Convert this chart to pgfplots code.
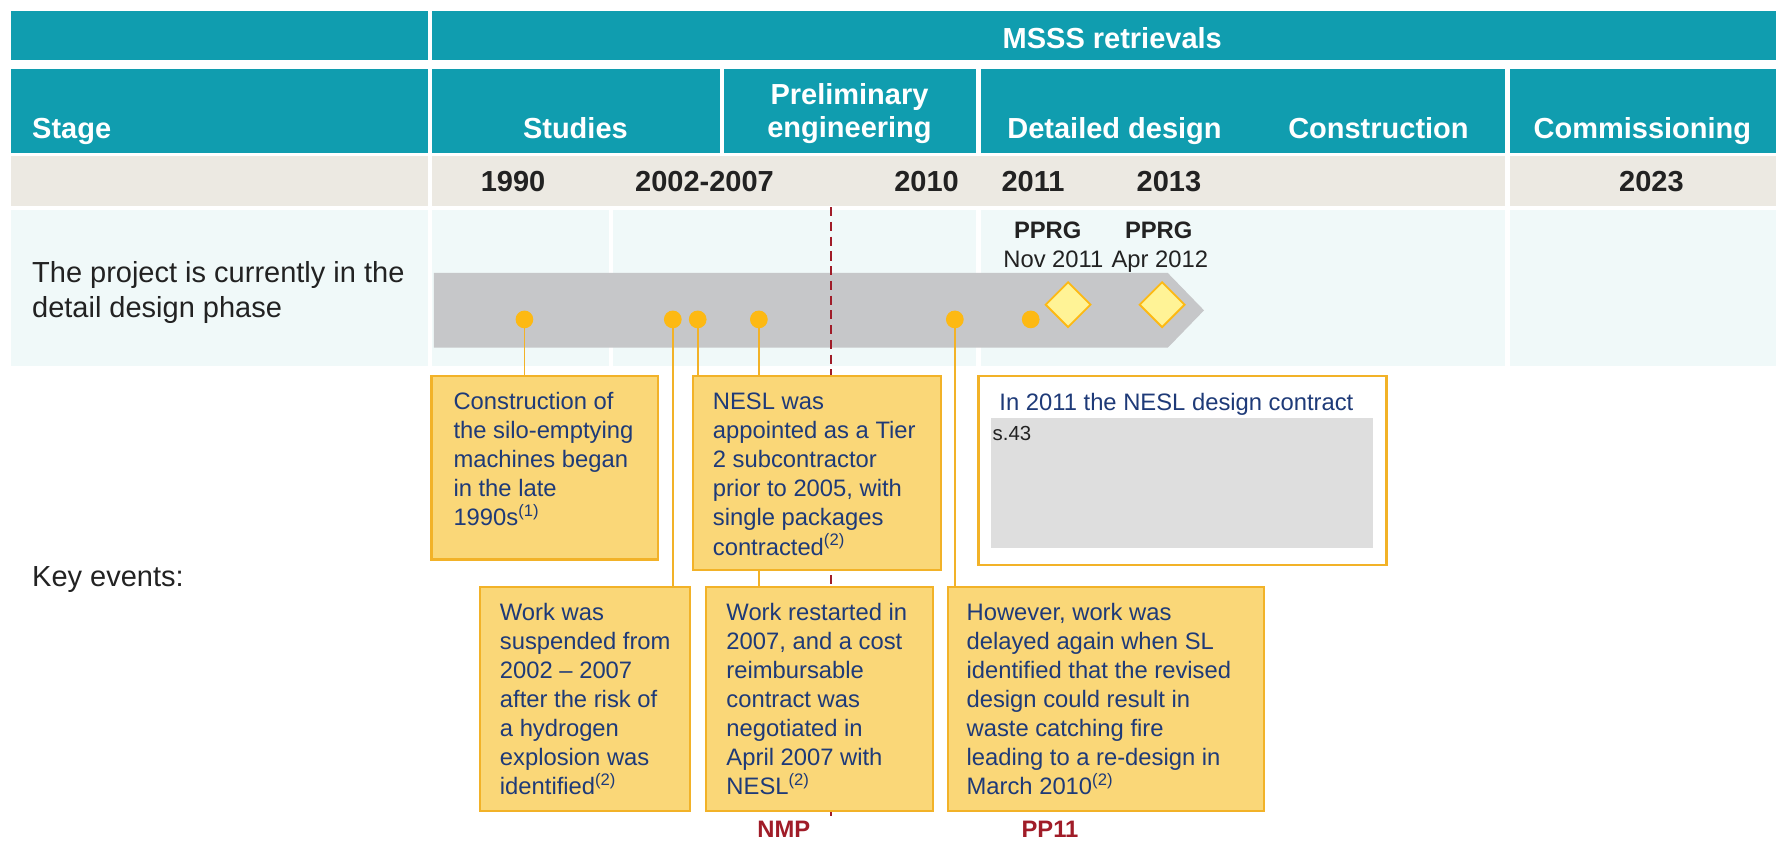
\documentclass[border=0pt]{standalone}
\usepackage{pgfplots}
\pgfplotsset{compat=1.18}
\usepackage{fontspec}
\setmainfont{Liberation Sans}
\definecolor{teal1}{RGB}{16,157,175}
\definecolor{beige}{RGB}{236,233,226}
\definecolor{lcyan}{RGB}{240,249,249}
\definecolor{arrowgray}{RGB}{198,199,201}
\definecolor{dotor}{RGB}{253,185,19}
\definecolor{boxfill}{RGB}{250,215,120}
\definecolor{boxline}{RGB}{242,178,40}
\definecolor{diafill}{RGB}{255,243,150}
\definecolor{navy}{RGB}{30,58,120}
\definecolor{dred}{RGB}{160,28,40}
\definecolor{innergray}{RGB}{222,222,222}
\definecolor{txt}{RGB}{34,34,34}
\newcommand{\hfont}{\fontsize{12.8}{15}\selectfont\bfseries}
\newcommand{\bfont}{\fontsize{10.5}{12.85}\selectfont}
\begin{document}
\begin{tikzpicture}
\begin{axis}[
  scale only axis, width=784pt, height=371.5pt,
  xmin=0, xmax=1568, ymin=0, ymax=743, y dir=reverse,
  hide axis, clip=false]
% white background
\fill[white] (0,0) rectangle (1568,743);
% top band
\fill[teal1] (10,10) rectangle (378,53);
\fill[teal1] (381,10) rectangle (1568,53);
% stage row
\fill[teal1] (10,61) rectangle (378,135);
\fill[teal1] (381,61) rectangle (636,135);
\fill[teal1] (639,61) rectangle (862,135);
\fill[teal1] (866,61) rectangle (1329,135);
\fill[teal1] (1333,61) rectangle (1568,135);
% year row
\fill[beige] (10,138) rectangle (378,182);
\fill[beige] (381,138) rectangle (1329,182);
\fill[beige] (1333,138) rectangle (1568,182);
% light row
\fill[lcyan] (10,185) rectangle (378,323);
\fill[lcyan] (381,185) rectangle (538,323);
\fill[lcyan] (541,185) rectangle (862,323);
\fill[lcyan] (866,185) rectangle (1329,323);
\fill[lcyan] (1333,185) rectangle (1568,323);
% grey arrow
\fill[arrowgray] (383,241) -- (1031,241) -- (1063,274) -- (1031,307) -- (383,307) -- cycle;
% dashed red line
\draw[dred, line width=0.8pt, dash pattern=on 4pt off 2.5pt] (734,183) -- (734,720);
% connectors
\draw[boxline, line width=0.8pt] (463,282) -- (463,332);
\draw[boxline, line width=0.8pt] (594,282) -- (594,518);
\draw[boxline, line width=0.8pt] (616,282) -- (616,332);
\draw[boxline, line width=0.8pt] (670,282) -- (670,518);
\draw[boxline, line width=0.8pt] (843,282) -- (843,518);
% event dots
\addplot[only marks, mark=*, mark size=3.7pt, mark options={fill=dotor, draw=dotor}]
  coordinates {(463,282) (594,282) (616,282) (670,282) (843,282) (910,282)};
% PPRG diamonds
\addplot[only marks, mark=square*, mark size=7pt,
  mark options={rotate=45, fill=diafill, draw=dotor, line width=0.8pt}]
  coordinates {(943,269) (1026,269)};
% boxes
\filldraw[fill=boxfill, draw=boxline, line width=1pt] (381,332) rectangle (581,494);
\filldraw[fill=boxfill, draw=boxline, line width=1pt] (612,332) rectangle (831,503);
\filldraw[fill=white, draw=boxline, line width=1pt] (864,332) rectangle (1224,499);
\fill[innergray] (875,369) rectangle (1212,484);
\filldraw[fill=boxfill, draw=boxline, line width=1pt] (424,518) rectangle (609,716);
\filldraw[fill=boxfill, draw=boxline, line width=1pt] (623,518) rectangle (824,716);
\filldraw[fill=boxfill, draw=boxline, line width=1pt] (837,518) rectangle (1116,716);
% box texts
\node[anchor=base west, inner sep=0, text=navy, font=\bfont] at (400,361.5)
  {\parbox[t]{200pt}{\raggedright Construction of\\the silo-emptying\\machines began\\in the late\\1990s\textsuperscript{(1)}}};
\node[anchor=base west, inner sep=0, text=navy, font=\bfont] at (629,361.5)
  {\parbox[t]{200pt}{\raggedright NESL was\\appointed as a Tier\\2 subcontractor\\prior to 2005, with\\single packages\\contracted\textsuperscript{(2)}}};
\node[anchor=base west, inner sep=0, text=navy, font=\bfont] at (441,547.5)
  {\parbox[t]{200pt}{\raggedright Work was\\suspended from\\2002 – 2007\\after the risk of\\a hydrogen\\explosion was\\identified\textsuperscript{(2)}}};
\node[anchor=base west, inner sep=0, text=navy, font=\bfont] at (641,547.5)
  {\parbox[t]{200pt}{\raggedright Work restarted in\\2007, and a cost\\reimbursable\\contract was\\negotiated in\\April 2007 with\\NESL\textsuperscript{(2)}}};
\node[anchor=base west, inner sep=0, text=navy, font=\bfont] at (853,547.5)
  {\parbox[t]{200pt}{\raggedright However, work was\\delayed again when SL\\identified that the revised\\design could result in\\waste catching fire\\leading to a re-design in\\March 2010\textsuperscript{(2)}}};
\node[anchor=base west, inner sep=0, text=navy, font=\bfont] at (882,362.5) {In 2011 the NESL design contract};
\node[anchor=base west, inner sep=0, text=txt, font=\fontsize{9}{11}\selectfont] at (876,389) {s.43};
% header texts
\node[anchor=base, inner sep=0, text=white, font=\hfont] at (982,43) {MSSS retrievals};
\node[anchor=base west, inner sep=0, text=white, font=\hfont] at (28,122) {Stage};
\node[anchor=base, inner sep=0, text=white, font=\hfont] at (508,122) {Studies};
\node[anchor=base, inner sep=0, text=white, font=\hfont] at (750,92) {Preliminary};
\node[anchor=base, inner sep=0, text=white, font=\hfont] at (750,121) {engineering};
\node[anchor=base, inner sep=0, text=white, font=\hfont] at (984,122) {Detailed design};
\node[anchor=base, inner sep=0, text=white, font=\hfont] at (1217,122) {Construction};
\node[anchor=base, inner sep=0, text=white, font=\hfont] at (1450,122) {Commissioning};
% years
\node[anchor=base, inner sep=0, text=txt, font=\hfont] at (453,169) {1990};
\node[anchor=base, inner sep=0, text=txt, font=\hfont] at (622,169) {2002-2007};
\node[anchor=base, inner sep=0, text=txt, font=\hfont] at (818,169) {2010};
\node[anchor=base, inner sep=0, text=txt, font=\hfont] at (912,169) {2011};
\node[anchor=base, inner sep=0, text=txt, font=\hfont] at (1032,169) {2013};
\node[anchor=base, inner sep=0, text=txt, font=\hfont] at (1458,169) {2023};
% PPRG labels
\node[anchor=base, inner sep=0, text=txt, font=\fontsize{10.5}{12}\selectfont\bfseries] at (925,210.5) {PPRG};
\node[anchor=base, inner sep=0, text=txt, font=\fontsize{10.5}{12}\selectfont\bfseries] at (1023,210.5) {PPRG};
\node[anchor=base, inner sep=0, text=txt, font=\fontsize{10.5}{12}\selectfont] at (930,236.5) {Nov 2011};
\node[anchor=base, inner sep=0, text=txt, font=\fontsize{10.5}{12}\selectfont] at (1024,236.5) {Apr 2012};
% left column
\node[anchor=base west, inner sep=0, text=txt, font=\fontsize{12.8}{15}\selectfont] at (28,249) {The project is currently in the};
\node[anchor=base west, inner sep=0, text=txt, font=\fontsize{12.8}{15}\selectfont] at (28,280) {detail design phase};
\node[anchor=base west, inner sep=0, text=txt, font=\fontsize{12.8}{15}\selectfont] at (28,518) {Key events:};
% gate labels
\node[anchor=base, inner sep=0, text=dred, font=\fontsize{10.5}{12}\selectfont\bfseries] at (692,739.5) {NMP};
\node[anchor=base, inner sep=0, text=dred, font=\fontsize{10.5}{12}\selectfont\bfseries] at (927,739.5) {PP11};
\end{axis}
\end{tikzpicture}
\end{document}
